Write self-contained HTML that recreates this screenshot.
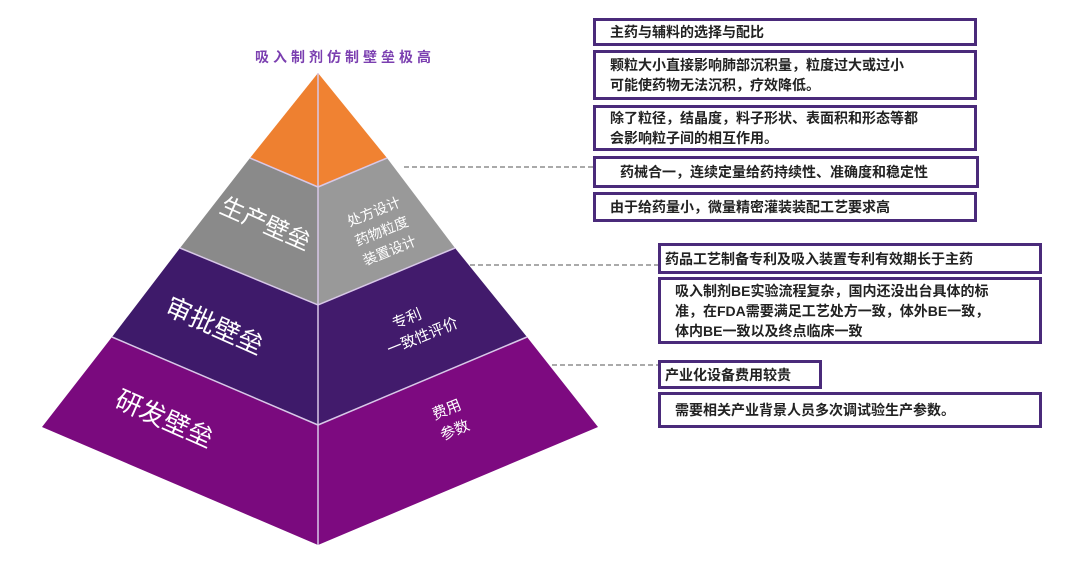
<!DOCTYPE html>
<html><head><meta charset="utf-8"><style>
html,body{margin:0;padding:0;background:#fff;}
body{width:1080px;height:573px;overflow:hidden;position:relative;font-family:"Liberation Sans","Noto Sans CJK SC",sans-serif;}
.b{position:absolute;border:3px solid #4a2a7a;box-sizing:border-box;background:#fff;font-weight:bold;font-size:14px;color:#222;line-height:20px;padding:0 0 0 14px;display:flex;align-items:center;white-space:nowrap;}
</style></head><body>
<svg width="1080" height="573" style="position:absolute;left:0;top:0" font-family="Liberation Sans, Noto Sans CJK SC, sans-serif">
<text x="345" y="62" text-anchor="middle" font-size="14" font-weight="bold" fill="#7b3fb0" letter-spacing="4">吸入制剂仿制壁垒极高</text>
<polygon points="318,73 250,158 318,187" fill="#ee8030"/>
<polygon points="318,73 387,158 318,187" fill="#f08232"/>
<polygon points="250,158 318,187 318,305 180,248" fill="#8a8a8a"/>
<polygon points="387,158 318,187 318,305 455,248" fill="#999999"/>
<polygon points="180,248 318,305 318,425 112,337" fill="#3e1a6a"/>
<polygon points="455,248 318,305 318,425 527,337" fill="#421b6c"/>
<polygon points="112,337 318,425 318,545 42,427" fill="#7a0a7e"/>
<polygon points="527,337 318,425 318,545 598,427" fill="#7d0a80"/>
<g stroke="#d8c8e8" stroke-width="1.5" fill="none">
<polyline points="250,158 318,187 387,158"/>
<polyline points="180,248 318,305 455,248"/>
<polyline points="112,337 318,425 527,337"/>
<line x1="318" y1="73" x2="318" y2="545"/>
</g>
<g fill="#fff">
<text x="265" y="232" font-size="24" text-anchor="middle" transform="rotate(24 265 225)">生产壁垒</text>
<text x="215" y="335" font-size="26" text-anchor="middle" transform="rotate(24 215 325)">审批壁垒</text>
<text x="165" y="428" font-size="26" text-anchor="middle" transform="rotate(24 165 418)">研发壁垒</text>
<g font-size="14" text-anchor="middle" transform="rotate(-22 382 232)">
<text x="382" y="215">处方设计</text><text x="382" y="236">药物粒度</text><text x="382" y="257">装置设计</text></g>
<g font-size="15" text-anchor="middle" transform="rotate(-22 418 325)">
<text x="410" y="320">专利</text><text x="418" y="342">一致性评价</text></g>
<g font-size="15" text-anchor="middle" transform="rotate(-22 450 418)">
<text x="450" y="414">费用</text><text x="450" y="436">参数</text></g>
</g>
<g stroke="#777" stroke-width="1.3" stroke-dasharray="5,3">
<line x1="404" y1="167" x2="593" y2="167"/>
<line x1="470" y1="265" x2="658" y2="265"/>
<line x1="552" y1="365" x2="658" y2="365"/>
</g>
</svg>
<div class="b" style="left:593px;top:18px;width:384px;height:28px;">主药与辅料的选择与配比</div>
<div class="b" style="left:593px;top:50px;width:384px;height:50px;">颗粒大小直接影响肺部沉积量，粒度过大或过小<br>可能使药物无法沉积，疗效降低。</div>
<div class="b" style="left:593px;top:105px;width:384px;height:46px;">除了粒径，结晶度，料子形状、表面积和形态等都<br>会影响粒子间的相互作用。</div>
<div class="b" style="left:593px;top:156px;width:386px;height:32px;padding-left:24px;">药械合一，连续定量给药持续性、准确度和稳定性</div>
<div class="b" style="left:593px;top:192px;width:384px;height:30px;">由于给药量小，微量精密灌装装配工艺要求高</div>
<div class="b" style="left:658px;top:243px;width:384px;height:31px;padding-left:4px;">药品工艺制备专利及吸入装置专利有效期长于主药</div>
<div class="b" style="left:658px;top:277px;width:384px;height:67px;">吸入制剂BE实验流程复杂，国内还没出台具体的标<br>准，在FDA需要满足工艺处方一致，体外BE一致，<br>体内BE一致以及终点临床一致</div>
<div class="b" style="left:658px;top:360px;width:164px;height:29px;padding-left:4px;">产业化设备费用较贵</div>
<div class="b" style="left:658px;top:392px;width:384px;height:36px;">需要相关产业背景人员多次调试验生产参数。</div>
</body></html>
